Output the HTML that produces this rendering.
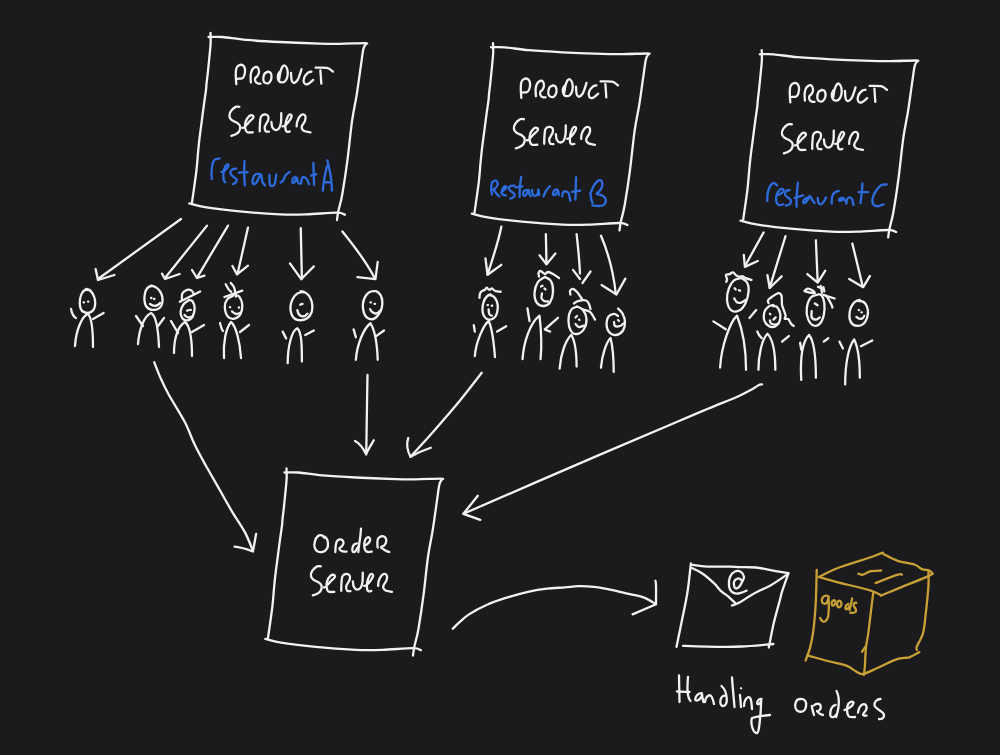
<!DOCTYPE html>
<html><head><meta charset="utf-8">
<style>
html,body{margin:0;padding:0;background:#1b1b1d;width:1000px;height:755px;overflow:hidden;font-family:"Liberation Sans",sans-serif;}
svg{display:block;position:absolute;left:0;top:0;}
path{fill:none;vector-effect:non-scaling-stroke;}
.w path{stroke:#f2f2f2;}
.b path{stroke:#2d6cde;}
.g path{stroke:#c9a035;}
</style></head>
<body>
<svg width="1000" height="755" viewBox="0 0 1000 755" stroke-linecap="round" stroke-linejoin="round" stroke-width="2.3">
<rect width="1000" height="755" fill="#1b1b1d"/>

<!-- ===== BOXES ===== -->
<defs><g id="box" stroke="#f2f2f2">
  <path d="M210.5,32.8 C210.5,34.3 210.8,39.0 210.7,41.9 C210.6,44.8 210.4,46.9 210.1,49.9 C209.8,52.9 209.5,56.3 209.1,60.0 C208.7,63.7 208.3,67.9 207.9,71.9 C207.5,75.9 206.8,80.8 206.5,83.8 C206.2,86.8 206.4,87.0 206.0,90.0 C205.6,93.0 205.0,96.9 204.3,101.9 C203.6,106.9 202.7,113.7 201.9,120.0 C201.1,126.3 199.9,134.7 199.3,140.0 C198.7,145.3 198.6,146.9 198.1,151.9 C197.6,156.9 197.3,163.0 196.5,170.0 C195.7,177.0 194.0,188.5 193.2,194.0 C192.4,199.5 192.1,201.3 191.9,202.8"/><path d="M208.5,37.0 C210.8,37.0 216.1,36.5 222.4,37.0 C228.7,37.5 236.6,39.1 246.2,39.9 C255.8,40.7 267.8,41.4 280.0,42.0 C292.2,42.6 309.8,43.3 319.7,43.6 C329.6,43.9 332.1,43.9 339.6,43.8 C347.1,43.7 360.4,43.2 364.8,43.2 C369.2,43.2 365.9,43.7 366.1,43.8"/><path d="M366.1,43.8 C365.7,44.7 364.3,45.3 363.4,49.1 C362.5,52.9 361.9,58.9 360.8,66.4 C359.7,73.9 358.2,85.3 356.8,94.2 C355.4,103.1 353.8,109.1 352.2,120.0 C350.6,130.9 349.1,147.3 347.5,159.7 C345.9,172.1 343.8,185.6 342.3,194.2 C340.8,202.8 339.2,207.1 338.3,211.4 C337.4,215.7 337.2,218.6 337.0,220.0"/><path d="M189.3,203.4 C192.2,204.1 198.1,206.1 206.5,207.4 C214.9,208.7 227.3,210.2 239.6,211.4 C251.8,212.6 268.9,213.8 280.0,214.3 C291.1,214.8 297.0,214.6 306.5,214.3 C316.0,214.0 330.6,212.6 337.0,212.7 C343.4,212.8 343.6,214.4 344.9,214.7"/>
</g></defs>
<use href="#box"/>
<use href="#box" transform="translate(282.5,10.3)"/>
<use href="#box" transform="translate(551.2,17.3)"/>
<use href="#box" transform="translate(76,435.5)"/>

<!-- ===== BIG ARROWS ===== -->
<g class="w" id="bigarrows">
  <path d="M154.2,362.2 C155.3,365.0 158.5,373.4 160.9,378.8 C163.3,384.2 164.8,387.5 168.8,394.7 C172.8,401.9 180.3,413.4 184.7,421.8 C189.0,430.2 191.2,437.4 194.9,445.0 C198.6,452.6 202.7,459.9 206.8,467.3 C210.9,474.7 215.3,482.1 219.5,489.5 C223.7,496.9 227.9,504.7 232.2,511.8 C236.4,519.0 241.6,525.9 245.0,532.4 C248.4,538.9 251.6,547.7 252.9,550.7"/>
  <path d="M256.1,534 C255,540 254,546 252.9,551.5 C246,549 240,547 234.6,546.7"/>
  <path d="M367.5,375.0 C367.4,380.0 367.1,395.8 367.0,405.0 C366.9,414.2 366.7,421.8 366.6,430.0 C366.5,438.2 366.3,450.4 366.2,454.5"/>
  <path d="M355,441 C359,443 362,446 366,454 C368,450 371,445 373.75,440.25"/>
  <path d="M481.8,372.8 C478.1,377.4 468.1,390.6 460.0,400.5 C451.9,410.4 441.2,422.6 433.0,432.0 C424.8,441.4 414.2,452.6 410.5,456.8"/>
  <path d="M408.25,438 C406.5,443 407,450 410.5,456.75 C417,453 424,450 430.75,447.75"/>
  <path d="M762.0,384.4 C761.4,384.5 760.2,384.4 758.4,385.3 C756.6,386.2 754.8,387.9 751.2,389.8 C747.6,391.8 744.0,393.9 736.8,397.0 C729.6,400.1 718.8,404.2 708.0,408.7 C697.2,413.2 690.0,416.4 672.0,424.0 C654.0,431.6 634.8,439.6 600.0,454.6 C565.2,469.6 486.2,503.9 463.4,513.8"/>
  <path d="M477.8,495.8 L463.4,513.8 L480.3,519.9"/>
  <path d="M452.8,628.8 C453.7,627.9 455.5,625.8 458.2,623.4 C460.9,621.0 464.2,617.5 469.0,614.4 C473.8,611.3 481.0,607.5 487.0,604.8 C493.0,602.1 498.0,600.4 505.0,598.2 C512.0,596.0 522.0,593.2 529.0,591.6 C536.0,590.0 541.0,589.3 547.0,588.6 C553.0,587.9 559.8,587.8 565.0,587.4 C570.2,587.0 573.2,586.3 578.0,586.2 C582.8,586.1 588.6,586.3 593.6,586.8 C598.6,587.3 602.6,588.1 608.0,589.2 C613.4,590.3 620.0,592.0 626.0,593.4 C632.0,594.8 639.0,595.8 644.0,597.6 C649.0,599.4 654.0,603.1 656.0,604.2"/>
  <path d="M655.4,580.8 C656.5,583 656,588 656,604.2 L632.6,614.4"/>
</g>

<!-- ===== FIGURES A ===== -->
<g class="w" transform="translate(60,210) scale(0.2)">
  <path d="M605,45 L190,345"/><path d="M178,295 L190,350 L272,325"/>
  <path d="M735,78 L525,340"/><path d="M510,318 L525,345 L598,320"/>
  <path d="M840,78 L685,338"/><path d="M660,300 L685,340 L722,328"/>
  <path d="M940,88 L888,318"/><path d="M862,280 L885,322 L940,278"/>
  <!-- fig1 -->
  <path d="M150,400 C110,385 95,440 100,480 C105,520 150,525 170,495 C185,460 170,400 130,395"/>
  <path d="M118,462 l2,0"/><path d="M140,458 l2,0"/>
  <path d="M75,680 C80,600 110,530 140,520 C160,540 165,620 165,685"/>
  <path d="M55,495 C60,520 70,535 80,540"/><path d="M165,545 L218,515"/>
  <!-- fig2 -->
  <path d="M460,380 C420,380 415,450 430,480 C450,510 500,505 510,470 C520,430 500,385 455,378"/>
  <path d="M455,440 l2,0"/><path d="M470,445 l2,0"/>
  <path d="M450,470 C470,485 490,480 500,465"/>
  <path d="M390,670 C395,600 420,530 455,515 C485,530 492,610 495,685"/>
  <path d="M380,530 L415,580"/><path d="M490,580 L520,540"/>
  <!-- fig3 -->
  <path d="M609.5,449.9 C609.9,444.6 607.4,426.5 611.6,418.0 C615.9,409.5 627.2,401.4 635.0,398.9 C642.8,396.4 652.7,399.6 658.4,403.1 C664.1,406.6 667.2,417.3 669.0,420.1"/><path d="M598.9,458.4 L700.9,407.4"/>
  <path d="M645.6,449.9 C641.0,453.4 625.1,461.5 618.0,471.1 C610.9,480.7 604.2,495.6 603.1,507.3 C602.0,519.0 605.9,533.9 611.6,541.3 C617.3,548.7 628.6,553.3 637.1,551.9 C645.6,550.5 656.6,543.1 662.6,532.8 C668.6,522.5 673.3,503.1 673.3,490.3 C673.3,477.6 667.2,463.0 662.6,456.3 C658.0,449.6 648.4,451.0 645.6,449.9"/>
  <path d="M635,503 l6,-1"/><path d="M649.9,499.6 l4,0"/>
  <path d="M622.3,524.3 C625.1,526.4 632.2,536.0 639.3,537.0 C646.4,538.0 660.5,531.7 664.8,530.6"/>
  <path d="M570,715 C570,640 590,580 625,560 C650,580 660,650 660,730"/>
  <path d="M555,555 L590,615"/><path d="M660,610 L720,575"/>
  <!-- fig4 -->
  <path d="M828.4,371.3 C830.9,375.6 838.7,390.4 843.3,396.8 C847.9,403.2 853.9,407.4 856.0,409.5"/><path d="M853.9,364.9 C856.7,368.8 866.6,377.0 870.9,388.3 C875.1,399.6 878.0,425.5 879.4,432.9"/>
  <path d="M822,435 L911.3,403.1"/>
  <path d="M864.5,428.6 C859.5,431.8 841.5,438.2 834.8,447.8 C828.1,457.4 823.4,471.8 824.1,486.0 C824.8,500.2 830.9,523.2 839.0,532.8 C847.1,542.4 862.4,545.5 873.0,543.4 C883.6,541.3 896.4,531.7 902.8,520.0 C909.2,508.3 912.4,487.8 911.3,473.3 C910.2,458.8 902.1,440.7 896.4,432.9 C890.7,425.1 880.5,427.6 877.3,426.5"/>
  <path d="M849.6,485.2 l1,1"/><path d="M894.3,486.9 l1,1"/>
  <path d="M860.3,507.3 C863.8,509.4 874.4,519.0 881.5,520.0 C888.6,521.0 899.2,514.7 902.8,513.6"/>
  <path d="M820,740 C815,660 830,590 855,560 C880,580 900,660 905,740"/>
  <path d="M800,565 C805,585 810,600 815,605"/><path d="M900,610 L945,575"/>
</g>
<g class="w" transform="translate(240,200) scale(0.225)">
  <path d="M270,125 L275,350"/><path d="M222,282 L272,352 L328,295"/>
  <path d="M455,140 C520,220 570,290 600,350"/><path d="M522,343 L602,352 L612,275"/>
  <!-- fig5 -->
  <path d="M285,410 C240,405 215,460 228,505 C240,545 300,545 318,500 C330,455 310,410 270,405"/>
  <path d="M268,465 l10,-3"/>
  <path d="M255,490 C260,520 285,525 300,505"/>
  <path d="M212,725 C212,650 230,580 255,570 C275,590 275,650 275,718"/>
  <path d="M190,585 L205,615"/><path d="M290,600 L328,580"/>
  <!-- fig6 -->
  <path d="M600,405 C560,400 540,450 548,490 C555,530 590,545 615,510 C640,480 640,420 605,405"/>
  <path d="M580,455 l2,0"/><path d="M598,462 l2,0"/>
  <path d="M578,485 C590,510 610,510 625,490"/>
  <path d="M515,710 C520,640 550,570 580,548 C600,580 610,650 612,710"/>
  <path d="M505,575 L515,610"/><path d="M605,605 L640,580"/>
</g>
<!-- ===== FIGURES B ===== -->
<g class="w" transform="translate(460,215) scale(0.212)">
  <path d="M195,55 C180,130 150,220 130,280"/><path d="M120,205 L130,282 L195,235"/>
  <path d="M405,90 L408,232"/><path d="M375,190 L408,232 L450,182"/>
  <path d="M550,90 C558,160 564,230 566,276"/><path d="M533,259 L566,302"/><path d="M615.6,266.5 L577.8,320.8"/>
  <path d="M665,98 C700,180 725,280 735,372"/><path d="M668,330 L738,375 L780,300"/>
  <!-- B1 -->
  <path d="M92,391 C92,375 96,365 100,362 C108,355 115,355 118,353 C122,345 126,342 128,344 C132,350 136,354 140,353 C145,350 148,345 152,347 C158,352 162,358 168,359 C178,361 186,362 192,362"/>
  <path d="M145,375 C110,380 100,440 110,470 C125,505 165,500 175,460 C185,420 170,380 140,378"/>
  <path d="M130,425 l2,0"/><path d="M150,428 l2,0"/>
  <path d="M135,445 C135,470 140,475 150,475"/>
  <path d="M70,665 C75,600 110,520 135,500 C155,540 160,610 165,670"/>
  <path d="M65,520 L70,550"/><path d="M175,550 L218,525"/>
  <!-- B2 -->
  <path d="M372.7,290.1 C372.3,287.4 369.1,277.9 370.3,273.6 C371.5,269.3 374.6,263.4 379.7,264.2 C384.8,265.0 395.0,277.5 400.9,278.3 C406.8,279.1 408.8,268.9 415.1,268.9 C421.4,268.9 430.1,273.6 438.7,278.3 C447.3,283.0 462.3,294.1 467.0,297.2"/>
  <path d="M400.9,292.5 C395.4,296.4 376.1,303.4 367.9,316.0 C359.6,328.6 352.2,351.4 351.4,367.9 C350.6,384.4 355.7,404.9 363.2,415.1 C370.7,425.3 386.0,429.6 396.2,429.2 C406.4,428.8 417.4,423.7 424.5,412.7 C431.6,401.7 437.9,380.1 438.7,363.2 C439.5,346.3 435.5,323.1 429.2,311.3 C422.9,299.5 405.6,295.6 400.9,292.5"/>
  <path d="M382.1,337.3 L389.2,334"/><path d="M398.6,346.7 L403.3,351.4"/>
  <path d="M386.8,370.3 C386.4,373.8 382.8,385.6 384.4,391.5 C386.0,397.4 391.1,402.9 396.2,405.7 C401.3,408.4 412.0,407.6 415.1,408.0"/>
  <path d="M295,680 C300,600 330,510 375,475 C385,560 385,630 380,680"/>
  <path d="M318,440 L328,500"/><path d="M462,485 L400,540 L425,550"/>
  <!-- B3 -->
  <path d="M521.2,375.0 C520.8,372.2 516.9,362.8 518.9,358.5 C520.9,354.2 527.5,348.2 533.0,349.0 C538.5,349.8 544.8,355.3 551.9,363.2 C559.0,371.1 571.6,390.7 575.5,396.2"/>
  <path d="M537.7,417.4 C540.9,415.4 547.2,408.0 556.6,405.7 C566.0,403.4 585.6,400.9 594.3,403.3 C602.9,405.7 605.0,413.1 608.5,419.8 C612.0,426.5 614.4,439.5 615.6,443.4"/>
  <path d="M580.2,445.7 C585.7,447.7 603.8,449.6 613.2,457.5 C622.6,465.4 632.9,487.0 636.8,492.9"/>
  <path d="M551.9,431.6 C547.2,434.4 530.3,437.5 523.6,448.1 C516.9,458.7 511.8,478.8 511.8,495.3 C511.8,511.8 516.9,536.2 523.6,547.2 C530.3,558.2 541.7,562.9 551.9,561.3 C562.1,559.7 577.4,549.5 584.9,537.7 C592.4,525.9 597.5,505.5 596.7,490.6 C595.9,475.7 587.7,457.9 580.2,448.1 C572.7,438.3 556.6,434.4 551.9,431.6"/>
  <path d="M544.8,483.5 L551.9,476.4"/><path d="M561.3,492.9 L563.7,495.3"/>
  <path d="M544.8,514.1 C547.5,516.5 554.6,527.1 561.3,528.3 C568.0,529.5 581.0,522.4 584.9,521.2"/>
  <path d="M470,725 C475,650 500,590 525,565 C545,600 550,660 550,715"/>
  <!-- B4 -->
  <path d="M745.3,441.0 C748.8,444.9 761.0,454.0 766.5,464.6 C772.0,475.2 777.9,491.3 778.3,504.7 C778.7,518.1 776.0,534.6 768.9,544.8 C761.8,555.0 746.8,564.8 735.8,566.0 C724.8,567.2 710.3,560.5 702.9,551.9 C695.5,543.2 691.5,526.3 691.1,514.1 C690.7,501.9 694.6,486.8 700.5,478.8 C706.4,470.8 718.9,466.4 726.4,466.0 C733.9,465.6 742.1,474.7 745.3,476.4"/>
  <path d="M745.3,495.3 L750,500"/>
  <path d="M726.4,504.7 C727.2,507.9 726.5,520.5 731.2,523.6 C735.9,526.8 748.0,525.6 754.7,523.6 C761.4,521.6 768.5,513.8 771.2,511.8"/>
  <path d="M665,720 C670,660 690,600 710,580 C720,620 725,690 725,740"/>
</g>
<!-- ===== FIGURES C ===== -->
<g class="w" transform="translate(710,220) scale(0.22528)">
  <path d="M238,55 L155,205"/><path d="M150,155 L155,208 L212,182"/>
  <path d="M335,72 L265,300"/><path d="M255,245 L265,302 L318,250"/>
  <path d="M470,90 L478,275"/><path d="M432,240 L478,278 L512,225"/>
  <path d="M632,105 L678,295"/><path d="M618,262 L680,298 L710,248"/>
  <!-- C1 -->
  <path d="M72.3,274.2 C72.8,272.3 75.9,268.0 75.6,262.9 C75.3,257.8 68.8,247.3 70.7,243.5 C72.6,239.7 81.8,242.1 86.9,240.2 C92.0,238.3 96.7,231.4 101.5,232.2 C106.3,233.0 111.4,241.9 116.0,245.1 C120.6,248.3 124.2,250.8 129.0,251.6 C133.8,252.4 140.2,248.9 145.1,250.0 C149.9,251.1 151.6,255.3 158.1,258.0 C164.6,260.7 179.7,264.8 184.0,266.1"/>
  <path d="M138.7,257.4 C143.0,260.7 159.0,268.1 164.5,277.4 C170.0,286.7 172.8,297.9 171.7,313.0 C170.6,328.1 165.2,353.2 158.1,368.0 C151.0,382.8 139.8,396.6 129.0,402.0 C118.2,407.4 102.3,408.2 93.4,400.4 C84.5,392.6 77.2,371.3 75.6,355.1 C74.0,338.9 78.6,317.9 83.7,303.3 C88.8,288.7 97.1,275.4 106.3,267.7 C115.5,260.0 133.3,259.1 138.7,257.4"/>
  <path d="M109.6,303.3 L114.4,308.2"/><path d="M128.9,311.4 L133.8,313.7"/>
  <path d="M107.9,348.6 C109.8,351.3 114.2,361.8 119.3,364.8 C124.4,367.8 132.2,368.0 138.7,366.4 C145.2,364.8 154.9,357.0 158.1,355.1"/>
  <path d="M45,655 C50,560 90,450 120,425 C150,500 160,600 160,665"/>
  <path d="M15,450 L70,485"/><path d="M175,435 L205,400"/>
  <!-- C2 -->
  <path d="M259.7,368.4 C259.4,366.4 255.0,361.1 257.7,356.4 C260.4,351.7 268.0,345.7 275.7,340.4 C283.4,335.1 296.6,325.2 303.6,324.5 C310.6,323.8 314.9,327.8 317.6,336.4 C320.3,345.0 317.9,365.7 319.6,376.4 C321.3,387.1 324.9,392.4 327.6,400.4 C330.3,408.4 334.9,418.0 335.6,424.3 C336.3,430.6 329.6,435.6 331.6,438.3 C333.6,441.0 342.9,436.6 347.6,440.3 C352.3,444.0 355.6,455.3 359.6,460.3 C363.6,465.3 369.5,468.6 371.5,470.3"/>
  <path d="M281.6,377.2 C278.0,378.4 266.4,379.2 259.7,384.4 C253.0,389.6 244.7,397.8 241.7,408.4 C238.7,419.0 238.0,437.6 241.7,448.3 C245.4,459.0 255.7,468.3 263.7,472.3 C271.7,476.3 282.3,475.6 289.6,472.3 C296.9,469.0 303.9,461.6 307.6,452.3 C311.3,443.0 313.3,427.3 311.6,416.3 C309.9,405.3 302.9,392.0 297.6,386.4 C292.3,380.8 282.6,383.1 279.6,382.4"/>
  <path d="M265.7,416.3 L267.7,418.3"/><path d="M281.6,442.3 L291.6,432.3"/>
  <path d="M265.7,446.3 C266.7,448.6 268.0,457.3 271.7,460.3 C275.4,463.3 282.3,464.3 287.6,464.3 C292.9,464.3 300.9,461.0 303.6,460.3"/>
  <path d="M215,665 C215,600 230,530 255,505 C280,530 290,600 290,665"/>
  <path d="M210,495 C215,510 225,520 230,525"/><path d="M320,540 L350,515"/>
  <!-- C3 -->
  <path d="M419.5,314.5 C421.8,312.8 428.2,305.2 433.5,304.5 C438.8,303.8 446.1,307.2 451.4,310.5 C456.7,313.8 466.4,322.5 465.4,324.5 C464.4,326.5 452.7,323.8 445.4,322.5 C438.1,321.2 425.5,317.5 421.5,316.5"/>
  <path d="M479.4,296.5 L501.4,304.5"/><path d="M491.4,292.5 L497.4,322.5"/><path d="M503.4,298.5 L507.4,316.5"/>
  <path d="M503.4,332.4 C506.1,333.7 513.4,333.1 519.4,340.4 C525.4,347.7 535.3,368.4 539.3,376.4 C543.3,384.4 542.6,386.4 543.3,388.4"/>
  <path d="M515.4,336.4 L553.3,348.4"/>
  <path d="M479.4,330.4 C474.1,332.7 455.7,334.1 447.4,344.4 C439.1,354.7 431.5,376.4 429.5,392.4 C427.5,408.4 430.5,427.6 435.5,440.3 C440.5,453.0 450.8,465.0 459.4,468.3 C468.0,471.6 479.7,468.3 487.4,460.3 C495.1,452.3 502.1,435.6 505.4,420.3 C508.7,405.0 509.1,382.7 507.4,368.4 C505.7,354.1 500.1,340.7 495.4,334.4 C490.7,328.1 482.1,331.1 479.4,330.4"/>
  <path d="M465.4,370.4 L477.4,378.4"/>
  <path d="M451.4,404.4 C451.4,409.0 448.1,426.0 451.4,432.3 C454.7,438.6 465.4,442.3 471.4,442.3 C477.4,442.3 484.7,434.0 487.4,432.3"/>
  <path d="M405,710 C400,620 410,540 440,510 C465,540 470,620 470,700"/>
  <path d="M400,545 L405,575"/><path d="M505,540 L525,525"/>
  <!-- C4 -->
  <path d="M665,355 C630,360 615,400 620,440 C630,480 680,480 695,440 C710,400 695,355 660,360"/>
  <path d="M660,400 l2,0"/><path d="M672,410 l2,0"/>
  <path d="M650,430 C665,445 680,440 685,425"/>
  <path d="M600,730 C600,640 615,560 640,530 C660,570 665,640 665,700"/>
  <path d="M575,540 L590,570"/><path d="M670,560 L720,535"/>
</g>


<!-- ===== TEXT ===== -->
<defs>
<g id="product" stroke="#f2f2f2">
  <path d="M75.7,219.5 C74.9,206.4 70.8,164.6 70.8,140.9 C70.8,117.2 70.8,92.6 75.7,77.1 C80.6,61.6 90.4,52.6 100.2,47.7 C110.0,42.8 125.6,42.0 134.6,47.7 C143.6,53.4 151.8,67.3 154.2,82.0 C156.6,96.7 153.4,122.1 149.3,136.0 C145.2,149.9 139.5,159.8 129.7,165.5 C119.9,171.2 97.0,169.6 90.4,170.4"/>
  <path d="M208.2,204.7 C207.8,194.1 204.2,159.7 205.8,140.9 C207.4,122.1 211.1,104.5 218.0,91.8 C224.9,79.1 238.5,68.1 247.5,64.8 C256.5,61.5 266.3,64.4 272.0,72.2 C277.7,80.0 282.7,99.2 281.9,111.5 C281.1,123.8 272.8,136.8 267.1,145.8 C261.4,154.8 249.9,156.5 247.5,165.5 C245.1,174.5 247.5,191.6 252.4,199.8 C257.3,208.0 269.6,212.1 277.0,214.6 C284.4,217.1 293.3,214.6 296.6,214.6"/>
  <path d="M360.4,106.6 C355.5,109.9 337.6,113.9 331.0,126.2 C324.4,138.5 319.5,166.3 321.1,180.2 C322.7,194.1 331.8,205.6 340.8,209.7 C349.8,213.8 366.1,212.1 375.1,204.7 C384.1,197.3 392.4,179.4 394.8,165.5 C397.2,151.6 394.7,131.1 389.8,121.3 C384.9,111.5 371.8,107.8 365.3,106.6 C358.8,105.4 353.1,112.7 350.6,113.9"/>
  <path d="M469.1,108.2 C466.4,114.1 454.2,130.4 452.8,143.6 C451.4,156.8 455.6,177.3 461.0,187.3 C466.4,197.3 476.0,202.7 485.5,203.6 C495.0,204.5 509.1,201.8 518.2,192.7 C527.3,183.6 536.4,166.4 540.0,149.1 C543.6,131.8 543.6,105.5 540.0,89.1 C536.4,72.7 525.5,55.9 518.2,50.9 C510.9,45.9 503.2,50.0 496.4,59.1 C489.6,68.2 482.3,86.9 477.3,105.5 C472.3,124.1 468.2,160.0 466.4,170.9"/>
  <path d="M572.8,116.4 C573.7,127.3 573.7,166.4 578.2,181.8 C582.7,197.2 590.9,209.1 600.0,209.1 C609.1,209.1 623.6,195.4 632.7,181.8 C641.8,168.2 648.6,143.7 654.5,127.3 C660.4,110.9 665.9,90.9 668.2,83.6"/>
  <path d="M758.2,105.5 C752.8,107.3 736.4,107.3 725.5,116.4 C714.6,125.5 698.2,144.6 692.7,160.0 C687.2,175.4 687.2,199.1 692.7,209.1 C698.2,219.1 711.9,224.6 725.5,220.0 C739.1,215.4 766.3,188.2 774.5,181.8"/>
  <path d="M796.4,70.0 C813.7,70.5 873.6,66.8 900.0,72.7 C926.4,78.6 945.4,100.0 954.5,105.5"/>
  <path d="M840.0,94.6 C841.4,114.6 846.8,194.6 848.2,214.6"/>
</g>
<g id="server" stroke="#f2f2f2">
  <path d="M152.0,72.2 C145.3,72.2 127.0,64.7 111.9,72.2 C96.9,79.7 72.6,100.7 61.7,117.4 C50.8,134.1 44.9,156.6 46.6,172.5 C48.3,188.4 57.5,201.0 71.7,212.7 C85.9,224.4 117.3,231.9 131.9,242.8 C146.5,253.7 157.0,262.8 159.5,277.9 C162.0,292.9 155.8,318.9 147.0,333.1 C138.2,347.3 120.3,355.7 106.9,363.2 C93.5,370.7 73.4,375.7 66.7,378.2"/>
  <path d="M182.1,292.9 C185.4,292.1 191.3,297.1 202.2,287.9 C213.1,278.7 231.4,254.5 247.3,237.8 C263.2,221.1 290.8,200.2 297.5,187.6 C304.2,175.0 295.0,165.0 287.5,162.5 C280.0,160.0 264.0,161.6 252.3,172.5 C240.6,183.4 223.9,207.6 217.2,227.7 C210.5,247.8 209.7,274.5 212.2,292.9 C214.7,311.3 218.9,330.2 232.3,338.1 C245.7,346.1 282.5,340.2 292.5,340.6"/>
  <path d="M365.2,330.6 C365.6,317.6 365.6,278.3 367.7,252.8 C369.8,227.3 370.3,194.3 377.8,177.6 C385.3,160.9 400.4,154.2 412.9,152.5 C425.4,150.8 445.9,158.3 453.0,167.5 C460.1,176.7 458.8,193.5 455.5,207.7 C452.2,221.9 439.3,240.3 433.0,252.8 C426.7,265.3 418.7,270.3 417.9,282.9 C417.1,295.4 420.5,319.7 428.0,328.1 C435.5,336.5 457.2,332.3 463.0,333.1"/>
  <path d="M488.2,229.5 C489.8,239.2 490.6,273.1 497.9,287.6 C505.2,302.1 519.7,315.0 531.8,316.6 C543.9,318.2 560.8,311.7 570.5,297.2 C580.2,282.7 586.4,256.1 590.0,229.5 C593.6,202.9 591.9,152.8 592.3,137.5"/>
  <path d="M606.9,277.9 C611.3,276.3 621.8,277.9 633.5,268.2 C645.2,258.5 665.8,235.9 677.1,219.8 C688.4,203.7 699.7,182.7 701.3,171.4 C702.9,160.1 693.2,152.0 686.7,152.0 C680.2,152.0 670.6,156.1 662.5,171.4 C654.4,186.7 642.3,219.8 638.3,244.0 C634.3,268.2 635.1,301.3 638.3,316.6 C641.5,331.9 650.4,333.6 657.7,336.0 C665.0,338.4 677.9,331.9 681.9,331.1"/>
  <path d="M754.5,277.9 C755.3,269.8 753.8,247.2 759.4,229.5 C765.0,211.8 777.9,184.3 788.4,171.4 C798.9,158.5 812.6,152.0 822.3,152.0 C832.0,152.0 843.3,160.1 846.5,171.4 C849.7,182.7 847.4,203.7 841.7,219.8 C836.1,235.9 818.2,255.3 812.6,268.2 C807.0,281.1 804.6,287.5 807.8,297.2 C811.0,306.9 816.7,319.0 832.0,326.3 C847.3,333.6 888.5,338.4 899.8,340.8"/>
</g>
</defs>
<use href="#product" transform="translate(228,60) scale(0.11)"/>
<use href="#server" transform="translate(225,100) scale(0.095)"/>
<use href="#product" transform="translate(513,73.75) scale(0.11)"/>
<use href="#server" transform="translate(509.5,112.4) scale(0.095)"/>
<use href="#product" transform="translate(782,78.2) scale(0.11)"/>
<use href="#server" transform="translate(777.5,117.5) scale(0.095)"/>
<use href="#server" transform="translate(306.5,559.5) scale(0.095)"/>
<g class="w" transform="translate(307,525) scale(0.09)">
  <path d="M195.0,145.0 C190.0,140.0 177.5,118.3 165.0,115.0 C152.5,111.7 132.8,114.2 120.0,125.0 C107.2,135.8 93.8,159.2 88.0,180.0 C82.2,200.8 79.7,230.8 85.0,250.0 C90.3,269.2 105.0,287.0 120.0,295.0 C135.0,303.0 158.0,303.5 175.0,298.0 C192.0,292.5 212.3,278.3 222.0,262.0 C231.7,245.7 234.2,219.5 233.0,200.0 C231.8,180.5 224.2,158.0 215.0,145.0 C205.8,132.0 184.2,125.8 178.0,122.0"/>
  <path d="M315.0,300.0 C315.5,290.0 315.5,259.2 318.0,240.0 C320.5,220.8 323.0,198.3 330.0,185.0 C337.0,171.7 349.2,162.5 360.0,160.0 C370.8,157.5 387.5,162.5 395.0,170.0 C402.5,177.5 406.7,193.3 405.0,205.0 C403.3,216.7 392.5,231.2 385.0,240.0 C377.5,248.8 361.7,250.8 360.0,258.0 C358.3,265.2 366.7,276.8 375.0,283.0 C383.3,289.2 399.2,293.0 410.0,295.0 C420.8,297.0 435.0,295.0 440.0,295.0"/>
  <path d="M555.0,205.0 C550.0,206.7 533.3,206.7 525.0,215.0 C516.7,223.3 507.8,241.7 505.0,255.0 C502.2,268.3 503.0,288.3 508.0,295.0 C513.0,301.7 525.5,303.3 535.0,295.0 C544.5,286.7 560.0,253.3 565.0,245.0"/>
  <path d="M600.0,40.0 C598.7,55.0 595.7,98.3 592.0,130.0 C588.3,161.7 581.7,201.7 578.0,230.0 C574.3,258.3 571.3,288.3 570.0,300.0"/>
  <path d="M640.0,225.0 C645.0,222.8 660.0,220.3 670.0,212.0 C680.0,203.7 695.8,186.2 700.0,175.0 C704.2,163.8 700.0,151.2 695.0,145.0 C690.0,138.8 678.3,133.8 670.0,138.0 C661.7,142.2 650.7,154.7 645.0,170.0 C639.3,185.3 635.2,210.8 636.0,230.0 C636.8,249.2 642.7,273.3 650.0,285.0 C657.3,296.7 668.3,298.3 680.0,300.0 C691.7,301.7 713.3,295.8 720.0,295.0"/>
  <path d="M785.0,250.0 C784.5,241.7 781.2,216.7 782.0,200.0 C782.8,183.3 782.0,162.5 790.0,150.0 C798.0,137.5 816.7,126.7 830.0,125.0 C843.3,123.3 861.7,130.0 870.0,140.0 C878.3,150.0 881.7,170.8 880.0,185.0 C878.3,199.2 869.7,215.0 860.0,225.0 C850.3,235.0 823.7,237.5 822.0,245.0 C820.3,252.5 839.5,262.5 850.0,270.0 C860.5,277.5 874.2,285.0 885.0,290.0 C895.8,295.0 910.0,298.3 915.0,300.0"/>
</g>

<g class="b" transform="translate(205,150) scale(0.135)">
  <path d="M50.6,214.5 C50.2,207.4 47.5,190.0 48.3,171.8 C49.1,153.6 51.1,122.4 55.4,105.4 C59.7,88.4 65.6,77.0 74.3,69.9 C83.0,62.8 102.0,64.0 107.5,62.8"/>
  <path d="M121.7,162.3 C124.9,161.5 132.8,163.1 140.7,157.6 C148.6,152.1 163.6,137.0 169.1,129.1 C174.6,121.2 175.5,113.3 173.9,110.2 C172.3,107.1 165.2,104.7 159.7,110.2 C154.2,115.7 144.6,130.0 140.7,143.4 C136.8,156.8 136.0,176.6 136.0,190.8 C136.0,205.0 138.3,220.8 140.7,228.7 C143.1,236.6 148.6,236.6 150.2,238.2"/>
  <path d="M230.8,138.6 C226.1,139.4 209.4,137.9 202.3,143.4 C195.2,148.9 186.5,162.3 188.1,171.8 C189.7,181.3 203.9,192.3 211.8,200.2 C219.7,208.1 233.1,212.1 235.5,219.2 C237.9,226.3 230.7,237.4 226.0,242.9 C221.3,248.4 210.2,250.8 207.1,252.4"/>
  <path d="M292.4,81.7 C292.0,95.1 289.6,132.3 290.0,162.3 C290.4,192.3 294.0,245.3 294.8,261.9"/>
  <path d="M249.7,167.1 C260.8,166.7 305.0,165.1 316.1,164.7"/>
  <path d="M401.4,176.5 C396.7,177.3 380.9,174.2 373.0,181.3 C365.1,188.4 356.4,207.3 354.0,219.2 C351.6,231.0 354.1,249.2 358.8,252.4 C363.5,255.6 375.3,246.9 382.4,238.2 C389.5,229.5 395.9,209.7 401.4,200.2 C406.9,190.7 411.7,175.8 415.6,181.3 C419.6,186.8 420.4,220.0 425.1,233.4 C429.8,246.8 440.9,257.1 444.0,261.9"/>
  <path d="M477.3,184.3 C477.8,195.9 476.4,239.8 480.0,253.6 C483.6,267.4 492.4,267.8 498.6,266.9 C504.8,266.0 512.4,262.5 517.3,248.3 C522.2,234.1 526.2,192.7 528.0,181.6"/>
  <path d="M559.9,240.3 C563.0,238.1 572.8,235.4 578.6,226.9 C584.4,218.4 586.6,200.3 594.6,189.6 C602.6,178.9 621.3,167.3 626.6,162.9"/>
  <path d="M669.3,200.3 C666.2,202.1 654.2,203.8 650.6,210.9 C647.0,218.0 645.7,238.5 647.9,242.9 C650.1,247.3 658.6,243.8 663.9,237.6 C669.2,231.4 676.3,206.5 679.9,205.6 C683.5,204.7 682.6,225.2 685.3,232.3 C688.0,239.4 694.1,245.6 695.9,248.3"/>
  <path d="M711.9,248.3 C712.8,242.1 713.7,218.9 717.3,210.9 C720.9,202.9 727.1,199.4 733.3,200.3 C739.5,201.2 748.4,207.4 754.6,216.3 C760.8,225.2 767.9,247.4 770.6,253.6"/>
  <path d="M802.6,96.3 C803.5,123.4 807.0,231.8 807.9,258.9"/>
  <path d="M786.6,189.6 C792.8,187.8 817.7,180.7 823.9,178.9"/>
  <path d="M871.9,301.6 C874.6,282.9 882.6,219.8 887.9,189.6 C893.2,159.4 901.2,131.8 903.9,120.3"/>
  <path d="M906.6,77.6 C910.6,96.3 924.8,152.3 930.6,189.6 C936.4,226.9 939.4,282.9 941.2,301.6"/>
  <path d="M882.6,237.6 C890.6,238.1 922.6,239.9 930.6,240.3"/>
</g>
<g class="b" transform="translate(480,170) scale(0.135)">
  <path d="M89.4,91.2 C88.2,98.3 82.3,118.9 82.3,133.9 C82.3,148.9 88.2,173.4 89.4,181.3"/>
  <path d="M89.4,91.2 C93.8,88.8 108.4,74.6 115.5,77.0 C122.6,79.4 132.9,95.1 132.1,105.4 C131.3,115.7 116.3,132.3 110.8,138.6 C105.3,144.9 97.3,137.9 98.9,143.4 C100.5,148.9 112.7,163.1 120.2,171.8 C127.7,180.5 140.0,191.6 143.9,195.5"/>
  <path d="M158.2,167.1 C161.3,163.9 170.8,154.4 177.1,148.1 C183.4,141.8 194.5,133.8 196.1,129.1 C197.7,124.4 191.3,118.1 186.6,119.7 C181.8,121.3 171.5,129.9 167.6,138.6 C163.7,147.3 162.1,163.9 162.9,171.8 C163.7,179.7 167.7,183.2 172.4,186.0 C177.1,188.8 188.2,188.0 191.3,188.4"/>
  <path d="M252.9,114.9 C248.2,115.7 230.8,115.0 224.5,119.7 C218.2,124.5 211.8,135.5 215.0,143.4 C218.2,151.3 236.4,160.0 243.5,167.1 C250.6,174.2 257.7,179.7 257.7,186.0 C257.7,192.3 249.0,200.7 243.5,205.0 C238.0,209.3 227.7,210.9 224.5,212.1"/>
  <path d="M305.1,50.9 C303.5,63.1 297.6,99.5 295.6,124.4 C293.6,149.3 293.7,187.6 293.3,200.2"/>
  <path d="M262.4,129.1 C271.1,127.9 305.9,123.2 314.6,122.0"/>
  <path d="M352.5,148.1 C348.6,148.9 334.3,147.3 328.8,152.8 C323.3,158.3 318.5,175.0 319.3,181.3 C320.1,187.6 328.0,193.2 333.5,190.8 C339.0,188.4 347.8,174.2 352.5,167.1 C357.2,160.0 359.6,145.7 362.0,148.1 C364.4,150.5 364.3,173.8 366.7,181.3 C369.1,188.8 374.6,191.1 376.2,193.1"/>
  <path d="M385.7,148.1 C386.5,153.6 385.7,174.2 390.4,181.3 C395.1,188.4 407.8,192.4 414.1,190.8 C420.4,189.2 425.1,179.7 428.3,171.8 C431.5,163.9 431.5,141.0 433.1,143.4 C434.7,145.8 437.0,178.9 437.8,186.0"/>
  <path d="M471.0,195.5 C474.2,188.4 482.1,165.4 490.0,152.8 C497.9,140.2 513.7,125.2 518.4,119.7"/>
  <path d="M573.9,145.7 C570.0,146.5 555.7,144.6 550.2,150.5 C544.7,156.4 539.6,175.8 540.8,181.3 C542.0,186.8 551.0,188.0 557.3,183.7 C563.6,179.3 574.4,154.8 578.7,155.2 C583.1,155.6 582.6,180.9 583.4,186.0"/>
  <path d="M609.5,195.5 C610.3,190.8 610.2,173.4 614.2,167.1 C618.2,160.8 626.1,156.8 633.2,157.6 C640.3,158.4 651.0,160.0 656.9,171.8 C662.8,183.7 666.7,219.2 668.7,228.7"/>
  <path d="M711.4,55.7 C711.0,71.1 709.8,120.8 709.0,148.1 C708.2,175.3 707.1,207.3 706.7,219.2"/>
  <path d="M680.6,162.3 C690.9,160.7 731.9,154.4 742.2,152.8"/>
  <path d="M818.0,167.1 C818.8,174.2 820.4,197.1 822.8,209.7 C825.2,222.3 830.7,237.4 832.3,242.9"/>
  <path d="M822.8,162.3 C826.8,153.6 837.0,124.4 846.5,110.2 C856.0,96.0 870.2,81.0 879.7,77.0 C889.2,73.0 899.5,78.6 903.4,86.5 C907.3,94.4 906.6,112.6 903.4,124.4 C900.2,136.2 890.7,148.9 884.4,157.6 C878.1,166.3 861.4,171.0 865.4,176.5 C869.4,182.0 897.0,183.7 908.1,190.8 C919.2,197.9 930.2,208.1 931.8,219.2 C933.4,230.2 925.5,249.2 917.6,257.1 C909.7,265.0 898.6,265.8 884.4,266.6 C870.2,267.4 841.0,262.7 832.3,261.9"/>
</g>
<g class="b" transform="translate(760,175) scale(0.135)">
  <path d="M53.3,193.4 C53.7,184.7 53.3,157.1 55.7,141.3 C58.1,125.5 62.4,110.8 67.5,98.6 C72.6,86.3 79.8,74.1 86.5,67.8 C93.2,61.5 101.1,59.1 107.8,60.7 C114.5,62.3 123.6,74.5 126.8,77.3"/>
  <path d="M122.0,152.0 C126.3,150.3 139.7,146.7 148.0,142.0 C156.3,137.3 168.3,130.0 172.0,124.0 C175.7,118.0 174.0,108.7 170.0,106.0 C166.0,103.3 155.3,102.3 148.0,108.0 C140.7,113.7 130.8,128.0 126.0,140.0 C121.2,152.0 119.0,168.3 119.0,180.0 C119.0,191.7 121.7,202.8 126.0,210.0 C130.3,217.2 137.3,221.8 145.0,223.0 C152.7,224.2 167.5,218.0 172.0,217.0"/>
  <path d="M219.2,112.8 C215.2,113.6 201.0,112.1 195.5,117.6 C190.0,123.1 183.6,137.3 186.0,146.0 C188.4,154.7 202.6,162.6 209.7,169.7 C216.8,176.8 227.1,180.8 228.7,188.7 C230.3,196.6 225.5,210.8 219.2,217.1 C212.9,223.4 195.5,225.0 190.8,226.6"/>
  <path d="M280.8,56.0 C279.2,72.6 272.9,125.5 271.3,155.5 C269.7,185.5 271.3,222.7 271.3,236.1"/>
  <path d="M257.1,169.7 C267.4,166.5 308.4,154.0 318.7,150.8"/>
  <path d="M366.1,165.0 C361.4,166.6 345.6,169.0 337.7,174.5 C329.8,180.0 319.5,192.7 318.7,198.2 C317.9,203.7 326.7,210.8 333.0,207.6 C339.3,204.4 350.4,187.9 356.7,179.2 C363.0,170.5 365.4,153.9 370.9,155.5 C376.4,157.1 384.3,180.0 389.8,188.7 C395.3,197.4 401.7,204.4 404.1,207.6"/>
  <path d="M427.8,169.7 C428.6,175.2 428.6,195.0 432.5,202.9 C436.4,210.8 444.4,218.7 451.5,217.1 C458.6,215.5 468.9,202.1 475.2,193.4 C481.5,184.7 487.0,169.7 489.4,165.0"/>
  <path d="M531.0,212.4 C531.4,204.5 530.2,178.4 533.4,165.0 C536.5,151.6 541.6,139.7 549.9,131.8 C558.2,123.9 577.6,120.0 583.1,117.6"/>
  <path d="M616.3,169.7 C612.3,170.5 597.7,171.3 592.6,174.5 C587.5,177.7 583.9,186.3 585.5,188.7 C587.1,191.1 597.0,191.1 602.1,188.7 C607.2,186.3 612.3,175.3 616.3,174.5 C620.2,173.7 622.2,180.3 625.8,183.9 C629.3,187.5 635.6,193.8 637.6,195.8"/>
  <path d="M640.0,212.4 C640.8,206.9 640.8,187.1 644.7,179.2 C648.7,171.3 657.4,165.0 663.7,165.0 C670.0,165.0 678.0,169.7 682.7,179.2 C687.4,188.7 690.5,214.8 692.1,221.9"/>
  <path d="M758.5,63.1 C757.7,74.6 756.2,107.7 753.8,131.8 C751.4,155.9 745.9,195.0 744.3,207.6"/>
  <path d="M730.1,127.1 C742.0,127.1 789.4,127.1 801.2,127.1"/>
  <path d="M938.6,70.2 C932.3,71.0 913.3,67.8 900.7,74.9 C888.1,82.0 873.9,97.0 862.8,112.8 C851.7,128.6 838.2,152.3 834.3,169.7 C830.3,187.1 832.8,206.8 839.1,217.1 C845.4,227.4 859.7,231.3 872.3,231.3 C884.9,231.3 907.8,219.5 914.9,217.1"/>
</g>



<g class="w" transform="translate(672,670) scale(0.1)">
  <path d="M70,55 C72,140 74,230 75,320"/><path d="M160,70 C155,130 150,200 160,250 C165,280 175,300 185,310"/><path d="M50,215 C90,215 130,218 175,220"/>
  <path d="M300,232 C265,228 235,260 232,290 C232,315 265,310 290,275 C297,265 300,250 300,240 C303,270 308,300 315,320"/>
  <path d="M330,320 C332,295 340,270 365,255 C390,245 405,270 420,340"/>
  <path d="M495,160 C530,190 548,240 548,300 C548,340 530,362 505,360 C480,355 475,300 495,275 C505,262 520,255 535,258"/>
  <path d="M600,75 C605,160 615,250 625,370"/>
  <path d="M680,250 C683,290 687,330 690,370"/><path d="M690,182 l1,1"/>
  <path d="M720,360 C722,320 735,285 760,272 C785,262 795,300 800,390"/>
  <path d="M895,290 C865,285 845,320 855,340 C870,350 890,320 892,300 C890,380 885,460 875,540 C868,600 860,640 840,630 C800,610 785,520 800,480 C850,465 920,455 980,450"/>
</g>
<g class="w" transform="translate(790,685) scale(0.1)">
  <path d="M100,140 C60,140 45,190 55,230 C65,265 100,275 130,262 C165,245 170,180 150,155 C135,140 115,138 100,140"/>
  <path d="M218,210 C222,240 232,275 240,300"/><path d="M238,205 C260,185 300,175 308,215 C312,245 285,262 270,262 C290,285 310,298 330,300"/>
  <path d="M455,200 C420,205 400,250 402,295 C405,330 440,330 458,300"/><path d="M465,60 C490,110 492,170 485,220 C480,260 470,290 462,320"/>
  <path d="M545,250 C580,245 630,210 635,180 C635,160 605,160 585,185 C565,215 565,290 590,315 C610,325 635,322 650,320"/>
  <path d="M680,275 C685,240 700,205 730,192 C760,185 775,215 760,250 C745,280 725,290 730,300 C740,310 755,308 765,305"/>
  <path d="M905,140 C870,140 838,170 845,205 C855,235 900,250 930,280 C955,310 930,345 890,340"/>
</g>

<!-- envelope -->
<g class="w">
  <path d="M690.9,563.3 C690.3,568.1 689.1,581.7 687.5,592.0 C685.9,602.3 682.8,615.9 681.0,625.0 C679.2,634.1 677.2,643.2 676.5,646.8"/>
  <path d="M691.3,564.7 C693.9,565.0 700.6,566.3 707.1,566.6 C713.6,566.9 724.5,566.5 730.0,566.6 C735.5,566.7 735.7,567.0 740.0,567.1 C744.3,567.2 750.2,566.9 756.0,567.5 C761.8,568.1 769.1,569.9 774.5,570.8 C779.9,571.7 786.1,572.7 788.4,573.1"/>
  <path d="M788.4,573.5 C787.3,576.6 783.3,587.7 781.9,592.1 C780.5,596.5 781.2,595.0 779.9,600.0 C778.6,605.0 775.9,614.2 774.0,622.1 C772.1,630.0 769.7,643.3 768.8,647.5"/>
  <path d="M683.0,645.8 C689.1,646.0 709.6,646.7 719.4,646.8 C729.1,646.9 732.5,647.0 741.5,646.5 C750.5,646.0 768.1,644.4 773.4,644.0"/>
  <path d="M691.8,568.0 C693.6,568.9 698.6,570.9 702.4,573.5 C706.2,576.1 711.4,580.8 714.5,583.7 C717.6,586.7 718.8,589.2 721.0,591.2 C723.2,593.2 725.2,593.9 727.5,595.8 C729.8,597.7 733.7,601.6 734.9,602.7"/>
  <path d="M731.9,605.5 C733.2,605.0 736.5,604.2 740.0,602.3 C743.5,600.4 747.9,596.8 753.2,593.9 C758.5,591.0 766.1,587.9 771.7,584.7 C777.3,581.5 784.1,576.5 786.6,574.9"/>
  <path d="M741.5,580.0 C740.9,579.8 739.2,578.2 738.0,578.5 C736.8,578.8 734.5,580.4 734.0,582.0 C733.5,583.6 734.2,587.2 735.0,588.0 C735.8,588.8 737.8,588.0 739.0,587.0 C740.2,586.0 741.2,583.7 742.0,582.0 C742.8,580.3 744.2,578.7 744.0,577.0 C743.8,575.3 742.5,572.9 741.0,572.0 C739.5,571.1 736.8,570.7 735.0,571.5 C733.2,572.3 731.0,574.6 730.0,577.0 C729.0,579.4 728.7,583.5 729.0,586.0 C729.3,588.5 730.5,590.8 732.0,592.0 C733.5,593.2 735.6,593.7 738.0,593.5 C740.4,593.3 745.1,591.2 746.5,590.7"/>
</g>
<!-- goods box -->
<g class="g">
  <path d="M816.7,570.0 C816.6,573.6 816.4,584.7 816.2,591.4 C816.0,598.1 815.8,603.0 815.3,610.0 C814.8,617.0 813.9,627.0 813.0,633.2 C812.1,639.4 811.4,642.6 810.2,647.1 C809.0,651.6 806.4,658.3 805.6,660.5"/>
  <path d="M819.0,577.0 C822.0,575.5 828.6,571.5 837.1,568.2 C845.6,565.0 862.5,560.0 870.0,557.5 C877.5,555.0 879.8,553.4 882.1,552.9 C884.4,552.4 881.3,553.0 883.9,554.3 C886.5,555.6 892.7,559.1 897.8,560.8 C902.9,562.5 910.5,563.1 914.5,564.5 C918.5,565.9 919.4,568.1 921.9,569.1 C924.4,570.1 927.5,569.7 929.3,570.5 C931.1,571.3 932.0,573.2 932.6,573.7"/>
  <path d="M932.6,573.7 C931.4,574.3 931.4,574.9 925.6,577.4 C919.8,579.9 905.2,585.6 897.8,588.6 C890.4,591.6 883.9,594.4 881.1,595.5"/>
  <path d="M819.0,577.0 C822.0,577.9 828.6,579.9 837.1,582.1 C845.6,584.3 862.7,588.2 870.0,590.4 C877.3,592.6 879.2,594.6 881.1,595.5"/>
  <path d="M873.2,593.2 C872.9,596.0 871.9,603.3 871.1,610.0 C870.3,616.7 869.1,627.0 868.3,633.2 C867.4,639.4 866.6,641.7 866.0,647.1 C865.4,652.5 865.2,661.0 864.9,665.6 C864.6,670.2 864.1,673.4 864.0,674.9"/>
  <path d="M862.1,651.7 C862.7,650.8 865.2,647.1 865.8,646.2"/>
  <path d="M928.4,571.9 C928.4,574.4 928.9,579.5 928.4,586.7 C927.9,593.9 926.5,607.2 925.6,615.0 C924.7,622.8 924.5,627.9 923.0,633.2 C921.5,638.6 917.6,644.3 916.6,647.1 C915.6,649.9 916.9,649.5 917.0,650.0"/>
  <path d="M807.4,655.4 C810.8,656.3 821.3,659.3 827.8,661.0 C834.3,662.7 841.8,663.9 846.4,665.6 C851.0,667.3 852.8,669.8 855.6,671.2 C858.4,672.6 859.2,674.6 863.0,674.0 C866.8,673.4 872.8,670.0 878.5,667.5 C884.2,665.0 892.0,660.8 897.1,659.1 C902.2,657.4 905.4,658.4 909.1,657.3 C912.8,656.1 917.6,653.1 919.3,652.2"/>
  <path d="M858.4,573.7 C859.2,573.9 861.1,575.1 863.0,574.7 C864.9,574.3 867.0,572.1 870.0,571.4 C873.0,570.7 879.2,570.6 881.1,570.5"/>
  <path d="M875.6,583.0 C879.3,581.6 893.4,576.1 897.8,574.7 C902.2,573.3 901.3,574.7 902.0,574.7"/>
</g>
<g class="g" transform="translate(815,590) scale(0.04634)">
  <path d="M300,150 C270,110 200,110 160,170 C130,230 150,300 210,300 C260,290 285,220 290,160 C300,280 305,420 285,560 C270,640 220,700 170,680 C130,660 115,620 110,600"/>
  <path d="M410,220 C360,230 345,300 370,330 C395,350 435,320 440,280 C445,245 430,220 410,220"/>
  <path d="M520,230 C480,240 465,310 490,360 C510,385 560,370 570,310 C575,265 555,230 520,230"/>
  <path d="M720,300 C670,310 645,370 665,410 C685,430 720,400 740,350"/><path d="M800,180 C790,260 770,340 745,430"/>
  <path d="M890,275 C850,270 820,300 840,350 C860,390 900,410 885,460 C870,490 800,495 760,490"/>
</g>
</svg>
</body></html>
